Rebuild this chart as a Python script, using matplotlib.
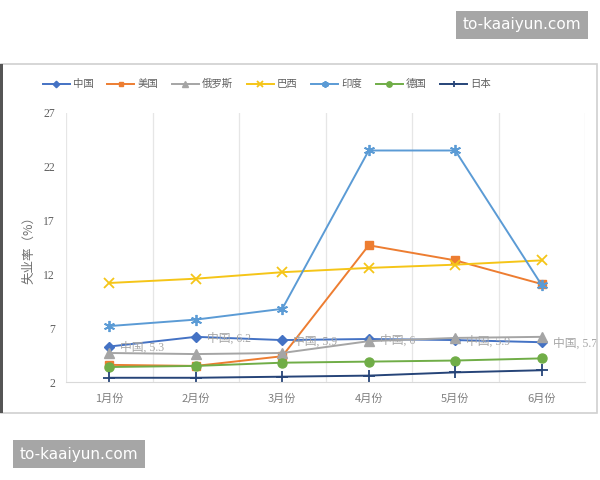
import matplotlib.pyplot as plt
from matplotlib.patches import Rectangle

plt.rcParams['font.family'] = ['Noto Sans CJK SC', 'DejaVu Sans']

# data
months = ["1月份", "2月份", "3月份", "4月份", "5月份", "6月份"]
china = [5.3, 6.2, 5.9, 6.0, 5.9, 5.7]
usa = [3.6, 3.5, 4.4, 14.7, 13.3, 11.1]
russia = [4.7, 4.6, 4.7, 5.8, 6.1, 6.2]
brazil = [11.2, 11.6, 12.2, 12.6, 12.9, 13.3]
india = [7.2, 7.8, 8.8, 23.5, 23.5, 11.0]
germany = [3.4, 3.5, 3.8, 3.9, 4.0, 4.2]
japan = [2.4, 2.4, 2.5, 2.6, 2.9, 3.1]
yticks = [2, 7, 12, 17, 22, 27]

series = [
    ("中国", china, "#4472C4", "D", 5.5),
    ("美国", usa, "#ED7D31", "s", 6),
    ("俄罗斯", russia, "#A5A5A5", "^", 6.5),
    ("巴西", brazil, "#F5C518", "x", 6.5),
    ("印度", india, "#5B9BD5", (6, 2, 0), 8),
    ("德国", germany, "#70AD47", "o", 6.5),
    ("日本", japan, "#264478", "+", 8),
]

fig = plt.figure(figsize=(6, 4.8), dpi=100)

# outer chart frame
fig.patches.append(Rectangle((0.002, 0.14), 0.993, 0.727, transform=fig.transFigure,
                             fill=False, edgecolor="#d0d0d0", linewidth=1.2))
fig.patches.append(Rectangle((0.0, 0.14), 0.005, 0.727, transform=fig.transFigure,
                             color="#555555", linewidth=0))

ax = fig.add_axes([0.11, 0.204, 0.865, 0.561])
x = list(range(len(months)))

handles = []
for name, vals, color, marker, ms in series:
    thin = marker in ("x", "+") or isinstance(marker, tuple)
    h, = ax.plot(x, vals, color=color, marker=marker, markersize=ms, linewidth=1.4,
                 markeredgewidth=1.3 if thin else 1, label=name)
    handles.append(h)

for i, v in enumerate(china):
    ax.annotate("中国, %g" % v, (i, v), xytext=(8, -1), textcoords="offset points",
                fontsize=8.5, color="#a6a6a6", va="center", family=["Liberation Serif", "Noto Sans CJK SC"])

ax.set_xlim(-0.5, 5.5)
ax.set_ylim(2, 27)
ax.set_yticks(yticks)
ax.set_xticks(x)
ax.set_xticklabels(months, fontsize=8, color="#808080")
for lab in ax.get_yticklabels():
    lab.set_family("Liberation Serif")
    lab.set_fontsize(8.5)
    lab.set_color("#606060")
ax.tick_params(length=0, pad=8)

# vertical grid lines between categories
for b in [k - 0.5 for k in range(len(months) + 1)]:
    ax.axvline(b, color="#e6e6e6", linewidth=0.9, zorder=0)
for s in ["top", "right", "left"]:
    ax.spines[s].set_visible(False)
ax.spines["bottom"].set_color("#d9d9d9")

ax.set_ylabel("失业率（%）", fontsize=9, color="#707070", labelpad=6)

fig.legend(handles=handles, loc="center", bbox_to_anchor=(0.445, 0.825), ncol=7, frameon=False,
           fontsize=7.5, handlelength=2.6, columnspacing=1.3, handletextpad=0.3,
           labelcolor="#606060", markerscale=0.6)

# watermarks
fig.text(0.87, 0.948, "to-kaaiyun.com", fontsize=11, color="white", ha="center", va="center",
         family="DejaVu Sans",
         bbox=dict(boxstyle="square,pad=0.45", facecolor="#a6a6a6", edgecolor="none"))
fig.text(0.132, 0.054, "to-kaaiyun.com", fontsize=11, color="white", ha="center", va="center",
         family="DejaVu Sans",
         bbox=dict(boxstyle="square,pad=0.45", facecolor="#a6a6a6", edgecolor="none"))

fig.savefig("out.png", dpi=100)
